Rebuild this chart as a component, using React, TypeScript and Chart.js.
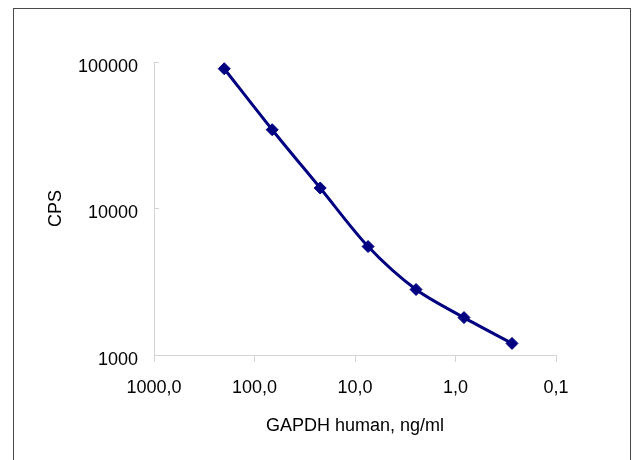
import React, { useEffect, useRef } from "react";
import { Chart, registerables } from "chart.js";

Chart.register(...registerables);

// Data
const concentrations = [200, 66.7, 22.2, 7.41, 2.47, 0.823, 0.274];
const cps = [90000, 34500, 13800, 5500, 2800, 1800, 1200];
const xTickValues = [1000, 100, 10, 1, 0.1];
const yTickValues = [1000, 10000, 100000];
const seriesName = "GAPDH human";
const xTitle = "GAPDH human, ng/ml";
const yTitle = "CPS";

const FONT = "'Liberation Sans', Arial, Helvetica, sans-serif";
const AXIS_GRAY = "#d4d4d4";

export default function App() {
  const canvasRef = useRef<HTMLCanvasElement | null>(null);

  useEffect(() => {
    const canvas = canvasRef.current;
    if (!canvas) return;
    const points = concentrations.map((c, i) => ({ x: c, y: cps[i] }));
    const chart = new Chart(canvas, {
      type: "line",
      data: {
        datasets: [
          {
            label: seriesName,
            data: points,
            borderColor: "#000080",
            backgroundColor: "#000080",
            borderWidth: 3,
            tension: 0.3,
            pointStyle: "rectRot",
            pointRadius: 6,
            pointBackgroundColor: "#000080",
            pointBorderColor: "#000080",
            pointBorderWidth: 1,
            fill: false,
          },
        ],
      },
      options: {
        responsive: false,
        animation: false,
        events: [],
        layout: { padding: { top: 62, right: 77, bottom: 0, left: 0 } },
        plugins: {
          legend: { display: false },
          tooltip: { enabled: false },
        },
        scales: {
          x: {
            type: "logarithmic",
            reverse: true,
            min: 0.1,
            max: 1000,
            afterBuildTicks: (s: any) => {
              s.ticks = xTickValues.map((v) => ({ value: v }));
            },
            afterFit: (s: any) => {
              s.height = 105;
            },
            ticks: {
              autoSkip: false,
              maxRotation: 0,
              padding: 15,
              color: "#000",
              font: { family: FONT, size: 18 },
              callback: (v: any) => Number(v).toFixed(1).replace(".", ","),
            },
            grid: {
              display: true,
              drawOnChartArea: false,
              drawTicks: true,
              tickLength: 7,
              color: AXIS_GRAY,
            },
            border: { display: true, color: AXIS_GRAY, width: 1 },
            title: {
              display: true,
              text: xTitle,
              color: "#000",
              font: { family: FONT, size: 18 },
              padding: { top: 0, bottom: 23 },
            },
          },
          y: {
            type: "logarithmic",
            min: 1000,
            max: 100000,
            afterBuildTicks: (s: any) => {
              s.ticks = yTickValues.map((v) => ({ value: v }));
            },
            afterFit: (s: any) => {
              s.width = 154;
            },
            ticks: {
              autoSkip: false,
              padding: 21,
              labelOffset: 5,
              color: "#000",
              font: { family: FONT, size: 18 },
              callback: (v: any) => String(Number(v)),
            },
            grid: {
              display: true,
              drawOnChartArea: false,
              drawTicks: true,
              tickLength: -5,
              color: AXIS_GRAY,
            },
            border: { display: true, color: AXIS_GRAY, width: 1 },
            title: {
              display: true,
              text: yTitle,
              color: "#000",
              font: { family: FONT, size: 18 },
              padding: { top: 45, bottom: 0 },
            },
          },
        },
      },
    } as any);
    return () => chart.destroy();
  }, []);

  return (
    <div
      style={{
        position: "fixed",
        left: 0,
        top: 0,
        width: 633,
        height: 460,
        overflow: "hidden",
        background: "#fff",
      }}
    >
      <canvas
        ref={canvasRef}
        width={633}
        height={460}
        style={{ position: "absolute", left: 0, top: 0, width: 633, height: 460 }}
      />
      <div
        style={{
          position: "absolute",
          left: 13,
          top: 8,
          width: 616,
          height: 520,
          border: "1px solid #4a4a4a",
          pointerEvents: "none",
        }}
      />
    </div>
  );
}
